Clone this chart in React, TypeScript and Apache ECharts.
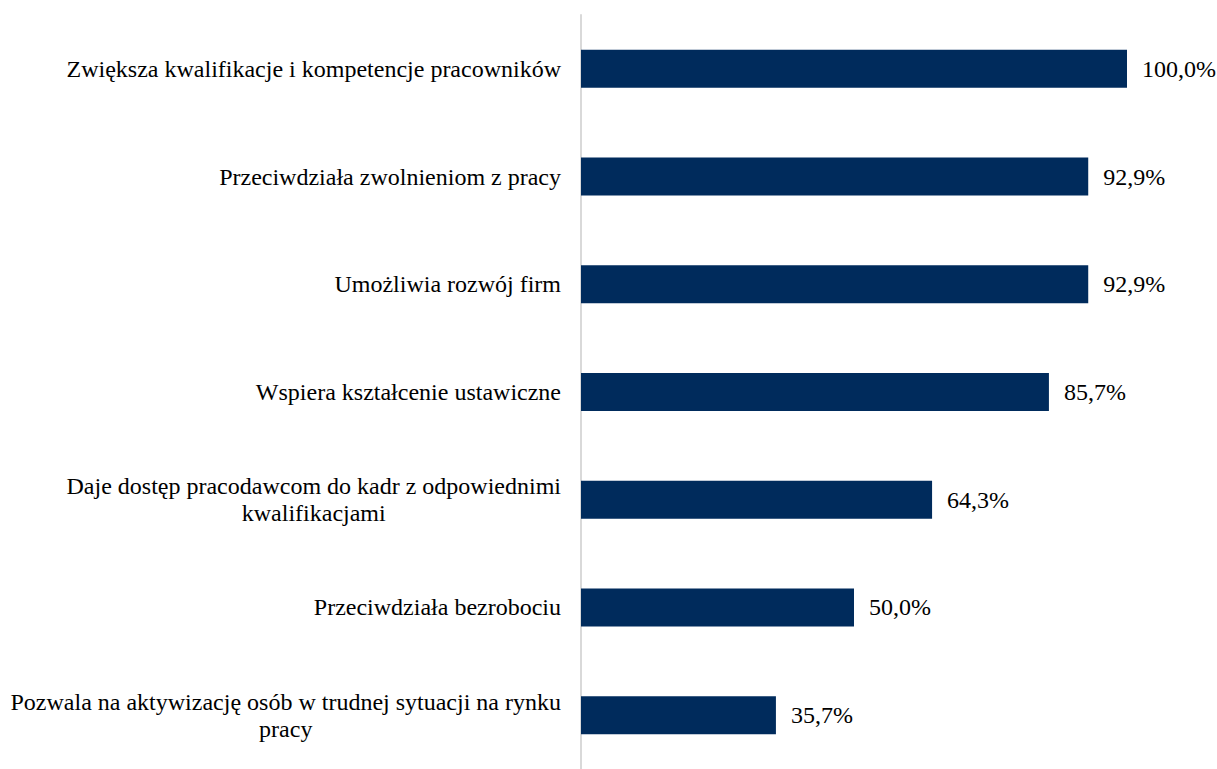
import React, { useEffect, useRef } from "react";
import * as echarts from "echarts";

const categories = [
  "Zwiększa kwalifikacje i kompetencje pracowników",
  "Przeciwdziała zwolnieniom z pracy",
  "Umożliwia rozwój firm",
  "Wspiera kształcenie ustawiczne",
  "Daje dostęp pracodawcom do kadr z odpowiednimi\nkwalifikacjami",
  "Przeciwdziała bezrobociu",
  "Pozwala na aktywizację osób w trudnej sytuacji na rynku\npracy",
];
const values = [100.0, 92.9, 92.9, 85.7, 64.3, 50.0, 35.7];

const FONT = "'Liberation Serif', serif";

export default function App() {
  const ref = useRef<HTMLDivElement>(null);
  useEffect(() => {
    if (!ref.current) return;
    const chart = echarts.init(ref.current, undefined, { renderer: "svg" });
    chart.setOption({
      animation: false,
      backgroundColor: "#ffffff",
      textStyle: { fontFamily: FONT },
      grid: { left: 581, right: 90, top: 15, bottom: 0, containLabel: false },
      xAxis: {
        type: "value",
        min: 0,
        max: 100,
        show: false,
      },
      yAxis: {
        type: "category",
        data: categories,
        inverse: true,
        axisLine: { show: true, lineStyle: { color: "#d9d9d9", width: 2 } },
        axisTick: { show: false },
        splitLine: { show: false },
        axisLabel: {
          margin: 20,
          align: "right",
          color: "#000",
          fontFamily: FONT,
          fontSize: 24,
          lineHeight: 27,
          formatter: (v: string) => `{c|${v}}`,
          rich: {
            c: {
              align: "center",
              fontFamily: FONT,
              fontSize: 24,
              lineHeight: 27,
              color: "#000",
            },
          },
        },
      },
      series: [
        {
          type: "bar",
          data: values,
          barWidth: 38,
          itemStyle: { color: "#002b5c" },
          label: {
            show: true,
            position: "right",
            distance: 15,
            color: "#000",
            fontFamily: FONT,
            fontSize: 24,
            formatter: (p: any) => p.value.toFixed(1).replace(".", ",") + "%",
          },
        },
      ],
    });
    return () => chart.dispose();
  }, []);
  return (
    <div
      ref={ref}
      style={{ position: "fixed", left: 0, top: 0, width: 1217, height: 769 }}
    />
  );
}
